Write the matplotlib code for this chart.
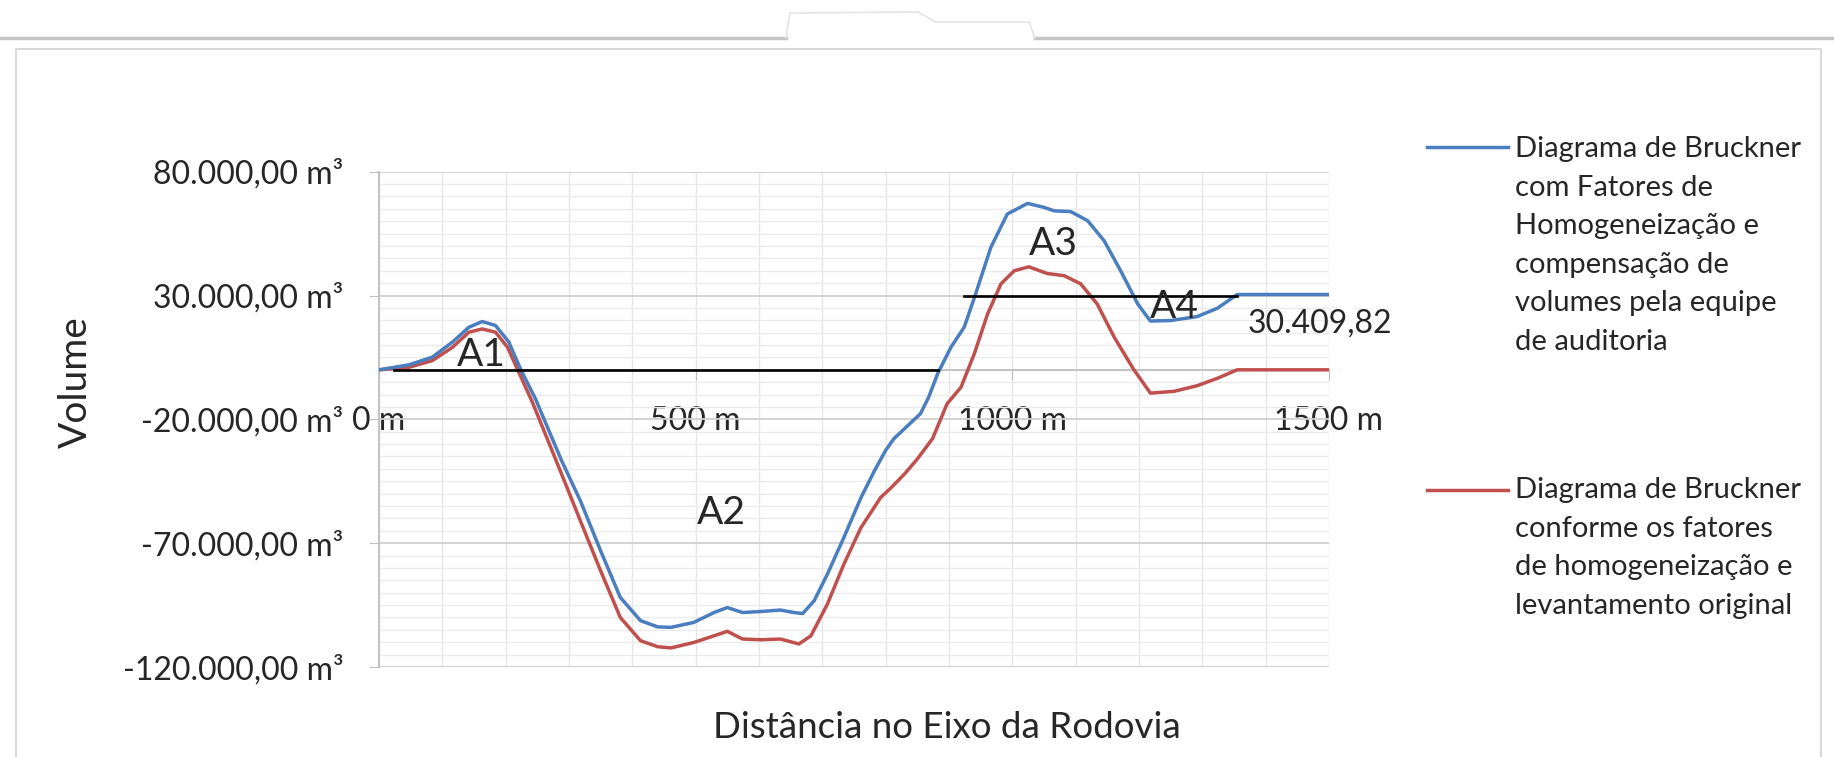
import matplotlib
matplotlib.use("Agg")
import matplotlib.pyplot as plt
from matplotlib.lines import Line2D

plt.rcParams['font.family'] = ['Lato', 'DejaVu Sans']

# distancia (m) e volume acumulado (m3)
dist_auditoria = [0, 47, 84, 116, 142, 163, 184, 205, 224, 247, 288, 318, 350, 381, 413, 440,
                  461, 497, 529, 550, 574, 603, 634, 655, 669, 687, 708, 734, 761, 782, 800,
                  813, 835, 855, 868, 882, 903, 924, 942, 966, 992, 1024, 1050, 1066, 1092,
                  1119, 1145, 1171, 1198, 1218, 1250, 1292, 1324, 1355, 1500]
vol_auditoria = [0, 2000, 5100, 11200, 17200, 19500, 17900, 11200, 0, -11700, -36500, -52900,
                 -73100, -91900, -101300, -103800, -104000, -102000, -98000, -96000, -98000,
                 -97600, -97000, -98000, -98400, -93300, -82500, -67700, -51600, -40900,
                 -32500, -27800, -22500, -17700, -11000, -1600, 9100, 17200, 30600, 49400,
                 62900, 67200, 65600, 64200, 63900, 60200, 52100, 40000, 26600, 19700, 19900,
                 21500, 24900, 30409.82, 30409.82]

dist_original = [0, 47, 84, 116, 142, 163, 184, 203, 219, 242, 285, 318, 350, 381, 413, 440,
                 461, 497, 529, 550, 574, 603, 634, 663, 682, 708, 734, 761, 792, 809, 830,
                 850, 874, 897, 919, 940, 961, 982, 1003, 1026, 1055, 1082, 1108, 1134, 1161,
                 1192, 1218, 1255, 1292, 1324, 1355, 1500]
vol_original = [0, 1000, 3700, 9100, 15200, 16500, 15200, 9100, 0, -13000, -40000, -61000,
                -81200, -100000, -109400, -111800, -112300, -110100, -107400, -105600, -108700,
                -109000, -108700, -110700, -107400, -94600, -78500, -63700, -51600, -47500,
                -42000, -36000, -27800, -13700, -7000, 6500, 22600, 34700, 40000, 41600, 38900,
                38000, 34700, 26600, 13100, 0, -9400, -8700, -6400, -3400, 0, 0]

# linhas de compensacao
linha1_x = [24, 882]
linha1_y = [0, 0]
linha2_x = [924, 1355]
linha2_y = [30000, 30000]

y_ticks = [-120000, -70000, -20000, 30000, 80000]
y_tick_labels = ['-120.000,00 m³', '-70.000,00 m³', '-20.000,00 m³', '30.000,00 m³', '80.000,00 m³']
x_ticks = [0, 500, 1000, 1500]
x_tick_labels = ['0 m', '500 m', '1000 m', '1500 m']

areas = ['A1', 'A2', 'A3', 'A4']
valor_final = '30.409,82'

legenda_auditoria = ('Diagrama de Bruckner\ncom Fatores de\nHomogeneização e\n'
                     'compensação de\nvolumes pela equipe\nde auditoria')
legenda_original = ('Diagrama de Bruckner\nconforme os fatores\nde homogeneização e\n'
                    'levantamento original')

W, H = 1834, 757
AZUL = '#4a7ebf'
VERMELHO = '#c0504d'
TEXTO = '#262626'

fig = plt.figure(figsize=(W / 100, H / 100), dpi=100)
fig.patch.set_facecolor('white')

# moldura do grafico e linha superior
fig.add_artist(Line2D([0, 786 / W], [1 - 38 / H] * 2, color='#c4c4c4', lw=2.5))
fig.add_artist(Line2D([1035 / W, 1], [1 - 38 / H] * 2, color='#c4c4c4', lw=2.5))
fig.add_artist(Line2D([786 / W, 790 / W, 918 / W, 936 / W, 1029 / W, 1035 / W],
                      [1 - 38 / H, 1 - 13 / H, 1 - 12 / H, 1 - 22 / H, 1 - 22 / H, 1 - 38 / H],
                      color='#e4e4e4', lw=1.2))
fig.add_artist(Line2D([16 / W, 16 / W, 1821 / W, 1821 / W],
                      [0, 1 - 49 / H, 1 - 49 / H, 0], color='#d9d9d9', lw=1.5))

ax = fig.add_axes([379 / W, 1 - 667 / H, 950 / W, (667 - 171.7) / H])

ax.plot(dist_auditoria, vol_auditoria, color=AZUL, lw=2.5, solid_joinstyle='round', zorder=4)
ax.plot(dist_original, vol_original, color=VERMELHO, lw=2.5, solid_joinstyle='round', zorder=3)
ax.plot(linha1_x, linha1_y, color='black', lw=1.9, zorder=5)
ax.plot(linha2_x, linha2_y, color='black', lw=1.9, zorder=5)

ax.set_xlim(0, 1500)
ax.set_ylim(-120000, 80000)
ax.set_yticks(y_ticks)
ax.set_yticklabels(y_tick_labels)
ax.set_yticks(range(-120000, 80001, 5000), minor=True)
ax.set_xticks(x_ticks)
ax.set_xticklabels(x_tick_labels)
ax.set_xticks(range(0, 1501, 100), minor=True)

ax.grid(which='major', axis='y', color='#d0d0d0', lw=1.3, zorder=0)
ax.grid(which='minor', axis='y', color='#ebebeb', lw=1.0, zorder=0)
ax.grid(which='both', axis='x', color='#e6e6e6', lw=1.0, zorder=0)
ax.set_axisbelow(True)

for s in ['top', 'right']:
    ax.spines[s].set_visible(False)
ax.spines['left'].set_color('#bfbfbf')
ax.spines['left'].set_linewidth(1.3)
ax.spines['bottom'].set_position(('data', 0))
ax.spines['bottom'].set_color('#bfbfbf')
ax.spines['bottom'].set_linewidth(1.3)

ax.tick_params(which='minor', length=0)
ax.tick_params(axis='y', which='major', length=7, color='#bfbfbf', pad=18.5,
               labelsize=23, labelcolor=TEXTO)
ax.tick_params(axis='x', which='major', length=7, color='#bfbfbf', pad=19,
               labelsize=23, labelcolor=TEXTO)

# rotulos das areas
ax.text(161, 6100, areas[0], fontsize=28, color=TEXTO, ha='center', va='center', zorder=6)
ax.text(541, -58000, areas[1], fontsize=28, color=TEXTO, ha='center', va='center', zorder=6)
ax.text(1064, 50800, areas[2], fontsize=28, color=TEXTO, ha='center', va='center', zorder=6)
ax.text(1256, 25500, areas[3], fontsize=28, color=TEXTO, ha='center', va='center', zorder=6)
ax.text(1372, 18800, valor_final, fontsize=23, color=TEXTO, ha='left', va='center', zorder=6)

fig.text(76 / W, 1 - 382 / H, 'Volume', rotation=90, fontsize=28, color=TEXTO,
         ha='center', va='center')
fig.text(947 / W, 1 - 727 / H, 'Distância no Eixo da Rodovia', fontsize=26.5, color=TEXTO,
         ha='center', va='center')

# legenda
fig.add_artist(Line2D([1427 / W, 1508 / W], [1 - 147 / H] * 2, color=AZUL, lw=2.5))
fig.add_artist(Line2D([1427 / W, 1508 / W], [1 - 490 / H] * 2, color=VERMELHO, lw=2.5))
fig.text(1515 / W, 1 - 136 / H, legenda_auditoria, fontsize=21, color=TEXTO,
         ha='left', va='top', linespacing=1.6)
fig.text(1515 / W, 1 - 477 / H, legenda_original, fontsize=21, color=TEXTO,
         ha='left', va='top', linespacing=1.6)

fig.savefig('out.png', dpi=100)
